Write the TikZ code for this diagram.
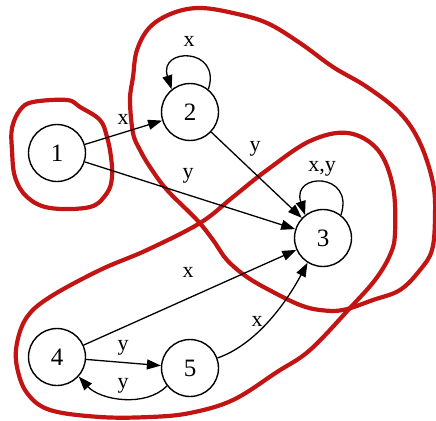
\documentclass[tikz,border=0pt]{standalone}
\usepackage{fontspec}
\setmainfont{Liberation Serif}
\usetikzlibrary{arrows.meta}
\definecolor{hand}{RGB}{195,20,20}
\tikzset{
  st/.style={draw, circle, line width=1.4pt, minimum size=57pt, inner sep=0pt, font=\fontsize{25}{25}\selectfont},
  arr/.style={draw, line width=1.3pt, -{Triangle[length=14pt,width=10pt]}},
  lab/.style={font=\fontsize{22}{22}\selectfont, inner sep=0pt},
  ring/.style={draw=hand, line width=4.2pt, line join=round}
}
\begin{document}
\begin{tikzpicture}[x=1pt,y=-1pt]
\useasboundingbox (0,0) rectangle (436,420);
% hand-drawn groupings
\draw[ring] plot[smooth cycle, tension=0.6] coordinates {(80,107) (100,120) (107,137) (111,157) (112,177) (107,193) (90,207) (50,208) (27,197) (15,177) (12,150) (12,128) (20,110) (33,102) (67,100)};
\draw[ring] plot[smooth cycle, tension=0.6] coordinates {(133,77) (137,50) (150,27) (173,13) (200,8) (233,13) (267,23) (300,43) (333,67) (367,87) (400,113) (420,143) (433,183) (435,217) (432,250) (420,270) (400,290) (373,300) (343,310) (320,310) (300,305) (273,292) (247,277) (227,260) (213,240) (197,220) (167,190) (150,167) (140,150) (133,133) (130,100)};
\draw[ring] plot[smooth cycle, tension=0.6] coordinates {(147,250) (100,270) (50,297) (27,317) (17,343) (17,367) (27,393) (50,410) (100,417) (150,417) (190,413) (233,400) (277,372) (310,350) (350,308) (375,280) (390,255) (395,233) (393,187) (378,150) (348,133) (310,141) (267,170) (233,197) (200,223)};
% states
\node[st] (n1) at (57,153) {1};
\node[st] (n2) at (190,112) {2};
\node[st] (n3) at (323,238) {3};
\node[st] (n4) at (57,357) {4};
\node[st] (n5) at (190,368) {5};
% transitions
\draw[arr] (n1) -- (n2);
\draw[arr] (n1) -- (n3);
\draw[arr] (n2) -- (n3);
\draw[arr] (n4) -- (n3);
\draw[arr] (n4) -- (n5);
\draw[arr] (n5.20) .. controls (255,345) and (285,305) .. (n3.-122);
\draw[arr] (n5.-142) .. controls (145,408) and (100,400) .. (n4.-42);
\draw[arr] (n2.51) .. controls (222,47) and (158,47) .. (n2.129);
\draw[arr] (n3.52) .. controls (355,172) and (291,172) .. (n3.128);
% labels
\node[lab] (l12) at (123,119) {x};
\node[lab] (l13) at (188,176) {y};
\node[lab] (l23) at (255,149) {y};
\node[lab] (l22) at (189,41) {x};
\node[lab] (l33) at (322,169) {x,y};
\node[lab] (l43) at (188,272) {x};
\node[lab] (l53) at (257,321) {x};
\node[lab] (l45) at (123,348) {y};
\node[lab] (l54) at (123,386) {y};
\end{tikzpicture}
\end{document}
